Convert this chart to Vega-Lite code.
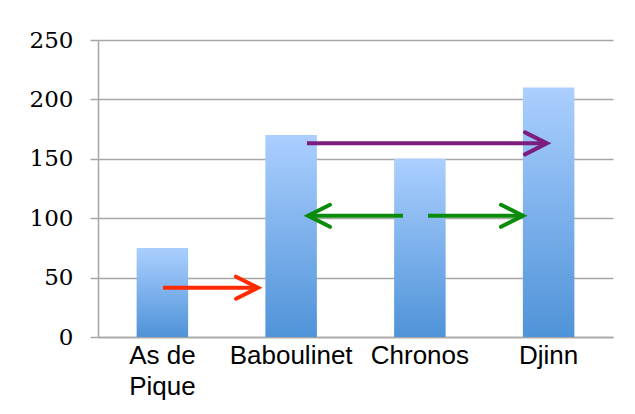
{
  "$schema": "https://vega.github.io/schema/vega-lite/v6.json",
  "width": 515,
  "height": 297,
  "autosize": {"type": "none"},
  "padding": {"left": 98, "top": 40, "right": 22, "bottom": 77},
  "background": "white",
  "config": {"view": {"stroke": null}},
  "datasets": {
    "bars": [
      {"name": "As de Pique", "value": 75},
      {"name": "Baboulinet", "value": 170},
      {"name": "Chronos", "value": 150},
      {"name": "Djinn", "value": 210}
    ],
    "arrows": [
      {"arrow": "red", "from": 0.505, "to": 1.243, "level": 41.5},
      {"arrow": "purple", "from": 1.623, "to": 3.487, "level": 163},
      {"arrow": "green-left", "from": 2.369, "to": 1.631, "level": 102},
      {"arrow": "green-right", "from": 2.563, "to": 3.301, "level": 102}
    ],
    "heads": [
      {"arrow": "red", "at": 1.243, "level": 41.5, "dir": "right"},
      {"arrow": "purple", "at": 3.487, "level": 163, "dir": "right"},
      {"arrow": "green-left", "at": 1.631, "level": 102, "dir": "left"},
      {"arrow": "green-right", "at": 3.301, "level": 102, "dir": "right"}
    ]
  },
  "layer": [
    {
      "data": {"name": "bars"},
      "mark": {
        "type": "bar",
        "color": {
          "gradient": "linear",
          "x1": 0, "y1": 0, "x2": 0, "y2": 1,
          "stops": [
            {"offset": 0, "color": "#abcfff"},
            {"offset": 1, "color": "#4f93d8"}
          ]
        }
      },
      "encoding": {
        "x": {
          "field": "name",
          "type": "nominal",
          "sort": null,
          "scale": {"paddingInner": 0.6, "paddingOuter": 0.3},
          "axis": {
            "title": null,
            "labelAngle": 0,
            "labelFont": "Liberation Sans",
            "labelFontSize": 26,
            "labelColor": "black",
            "labelPadding": 5,
            "labelLineHeight": 31,
            "labelExpr": "datum.value == 'As de Pique' ? ['As de', 'Pique'] : datum.value",
            "ticks": false,
            "domainColor": "#a6a6a6",
            "domainWidth": 1.5
          }
        },
        "y": {
          "field": "value",
          "type": "quantitative",
          "scale": {"domain": [0, 250], "nice": false},
          "axis": {
            "title": null,
            "values": [0, 50, 100, 150, 200, 250],
            "labelFont": "DejaVu Serif",
            "labelFontSize": 23,
            "labelColor": "black",
            "labelPadding": 17,
            "tickSize": 8,
            "tickColor": "#a6a6a6",
            "tickWidth": 1.5,
            "domainColor": "#a6a6a6",
            "domainWidth": 1.5,
            "grid": true,
            "gridColor": "#a6a6a6",
            "gridWidth": 1.5
          }
        }
      }
    },
    {
      "data": {"name": "arrows"},
      "mark": {"type": "rule", "strokeWidth": 4},
      "encoding": {
        "x": {"field": "from", "type": "quantitative", "scale": {"domain": [0, 4], "nice": false, "zero": false}, "axis": null},
        "x2": {"field": "to"},
        "y": {"field": "level", "type": "quantitative"},
        "color": {
          "field": "arrow",
          "type": "nominal",
          "legend": null,
          "scale": {
            "domain": ["red", "purple", "green-left", "green-right"],
            "range": ["#ff2a00", "#7d1d7d", "#0a8c0a", "#0a8c0a"]
          }
        }
      }
    },
    {
      "data": {"name": "heads"},
      "mark": {"type": "point", "filled": false, "strokeWidth": 4, "opacity": 1, "size": 484, "strokeCap": "round", "strokeJoin": "miter"},
      "encoding": {
        "x": {"field": "at", "type": "quantitative", "scale": {"domain": [0, 4], "nice": false, "zero": false}, "axis": null},
        "y": {"field": "level", "type": "quantitative"},
        "shape": {
          "field": "dir",
          "type": "nominal",
          "legend": null,
          "scale": {"domain": ["right", "left"], "range": ["M -2 -1 L 0 0 L -2 1", "M 2 -1 L 0 0 L 2 1"]}
        },
        "color": {
          "field": "arrow",
          "type": "nominal",
          "legend": null,
          "scale": {
            "domain": ["red", "purple", "green-left", "green-right"],
            "range": ["#ff2a00", "#7d1d7d", "#0a8c0a", "#0a8c0a"]
          }
        }
      }
    }
  ],
  "resolve": {"scale": {"x": "independent"}}
}
